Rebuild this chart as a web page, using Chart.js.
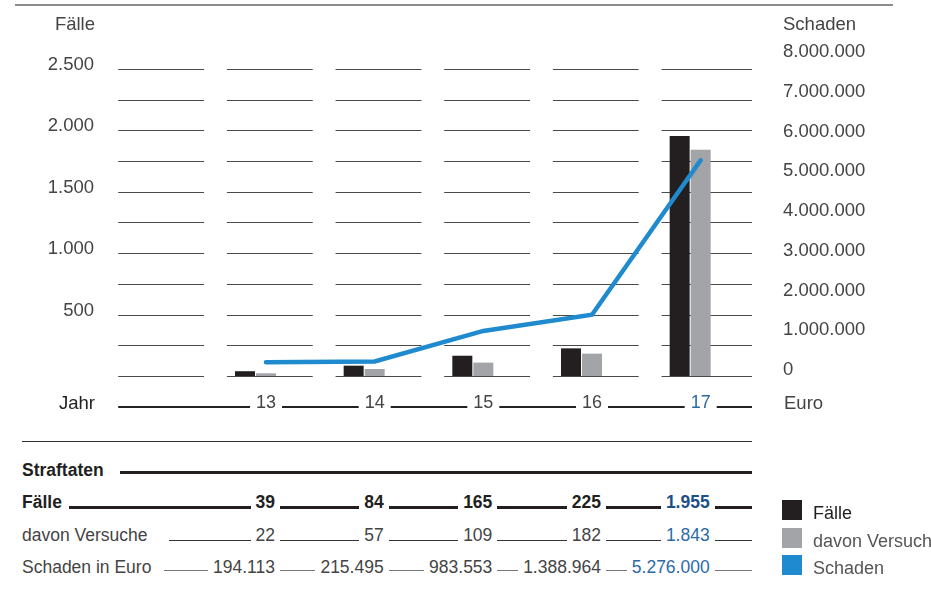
<!DOCTYPE html>
<html lang="de">
<head>
<meta charset="utf-8">
<title>Straftaten 2013–2017</title>
<script src="https://cdn.jsdelivr.net/npm/chart.js@4.4.1/dist/chart.umd.min.js"></script>
<style>
  html, body { margin: 0; padding: 0; background: #fff; }
  body {
    width: 931px; height: 603px; position: relative; overflow: hidden;
    font-family: "Liberation Sans", Arial, sans-serif; color: #444;
  }
  .topline { position: absolute; left: 15px; top: 4px; width: 878px; height: 2px; background: #8c8c8c; }
  #chart-box { position: absolute; left: 0; top: 0; width: 931px; height: 430px; }
  .axis-title { position: absolute; font-size: 18.5px; line-height: 22px; white-space: nowrap; color: #444; }
  .rule { position: absolute; left: 22px; top: 441px; width: 730px; height: 1px; background: #333; }
  .row { position: absolute; left: 22px; width: 730px; height: 22px; font-size: 17.5px; line-height: 22px; color: #444; }
  .row.bold { font-weight: bold; color: #231f20; }
  .row .line { position: absolute; left: 0; right: 0; }
  .row .cell { position: absolute; top: 0; background: #fff; white-space: nowrap; }
  .legend { position: absolute; left: 782px; top: 500px; font-size: 18px; color: #555; }
  .legend .item { position: relative; height: 27.5px; white-space: nowrap; }
  .legend .box { position: absolute; left: 0; top: 0; width: 20px; height: 20px; }
  .legend .text { position: absolute; left: 31px; top: 2px; line-height: 22px; }
</style>
</head>
<body>
<div class="topline"></div>
<div id="chart-box"><canvas id="chart" width="931" height="430"></canvas></div>

<div class="axis-title" style="right:836px; top:13px;">Fälle</div>
<div class="axis-title" style="left:783px; top:13px;">Schaden</div>
<div class="axis-title" style="right:836px; top:392px; color:#222;">Jahr</div>
<div class="axis-title" style="left:784px; top:392px;">Euro</div>

<div class="rule"></div>
<div id="table"></div>

<div class="legend">
  <div class="item"><span class="box" style="background:#231f20"></span><span class="text" style="color:#222">Fälle</span></div>
  <div class="item"><span class="box" style="background:#a2a4a7"></span><span class="text">davon Versuche</span></div>
  <div class="item"><span class="box" style="background:#1f8ace"></span><span class="text">Schaden</span></div>
</div>

<script>
'use strict';

var jahre = ['13', '14', '15', '16', '17'];
var faelle = [39, 84, 165, 225, 1955];
var versuche = [22, 57, 109, 182, 1843];
var schaden = [194113, 215495, 983553, 1388964, 5276000];

// Axis ticks
var faelleTicks = [0, 250, 500, 750, 1000, 1250, 1500, 1750, 2000, 2250, 2500];
var schadenTicks = [0, 1000000, 2000000, 3000000, 4000000, 5000000, 6000000, 7000000, 8000000];

var BLACK = '#231f20', GREY = '#a2a4a7', BLUE = '#1f8ace';
var FONT = "'Liberation Sans', Arial, sans-serif";

// German thousands separator
function fmt(v) {
  return String(v).replace(/\B(?=(\d{3})+(?!\d))/g, '.');
}

// The first column of the grid is empty, so the year axis gets a blank slot in front.
var labels = [''].concat(jahre);

// Gridlines are broken into one segment per column, and the year axis rule
// is interrupted around each label.
var segmentGrid = {
  id: 'segmentGrid',
  beforeDatasetsDraw: function (chart) {
    var ctx = chart.ctx, x = chart.scales.x, y = chart.scales.y;
    var w = x.width / labels.length;
    ctx.save();
    ctx.strokeStyle = '#4a4a4a';
    ctx.lineWidth = 1;
    ctx.beginPath();
    y.ticks.forEach(function (t) {
      var py = Math.round(y.getPixelForValue(t.value)) + 0.5;
      labels.forEach(function (_, i) {
        var cx = x.getPixelForValue(i);
        var right = i === labels.length - 1 ? x.right - 3 : cx + w * 0.43;
        ctx.moveTo(cx - w * 0.36, py);
        ctx.lineTo(right, py);
      });
    });
    ctx.stroke();
    ctx.restore();
  },
  afterDraw: function (chart) {
    var ctx = chart.ctx, x = chart.scales.x;
    var w = x.width / labels.length;
    var ly = x.top + 31;
    ctx.save();
    ctx.font = '18px ' + FONT;
    ctx.strokeStyle = '#222';
    ctx.lineWidth = 2.2;
    ctx.beginPath();
    var start = x.getPixelForValue(0) - w * 0.36;
    jahre.forEach(function (lab, i) {
      var cx = x.getPixelForValue(i + 1);
      var half = ctx.measureText(lab).width / 2 + 6;
      ctx.moveTo(start, ly);
      ctx.lineTo(cx - half, ly);
      start = cx + half;
    });
    ctx.moveTo(start, ly);
    ctx.lineTo(x.right - 3, ly);
    ctx.stroke();
    ctx.restore();
  }
};

Chart.defaults.font.family = FONT;

var chart = new Chart(document.getElementById('chart').getContext('2d'), {
  type: 'bar',
  data: {
    labels: labels,
    datasets: [
      {
        label: 'Schaden',
        type: 'line',
        data: [null].concat(schaden),
        yAxisID: 'y1',
        borderColor: BLUE,
        borderWidth: 4.5,
        borderCapStyle: 'round',
        borderJoinStyle: 'miter',
        pointRadius: 0,
        tension: 0,
        order: 0
      },
      {
        label: 'Fälle',
        data: [null].concat(faelle),
        yAxisID: 'y',
        backgroundColor: BLACK,
        order: 1
      },
      {
        label: 'davon Versuche',
        data: [null].concat(versuche),
        yAxisID: 'y',
        backgroundColor: GREY,
        order: 1
      },
      {
        // empty slot: keeps the bar pair left of the year label
        label: '',
        data: [],
        yAxisID: 'y',
        backgroundColor: 'rgba(0,0,0,0)',
        order: 1
      }
    ]
  },
  options: {
    responsive: false,
    animation: false,
    layout: { padding: { top: 52, left: 0, right: 0, bottom: 0 } },
    datasets: {
      bar: { categoryPercentage: 0.58, barPercentage: 0.952 }
    },
    plugins: {
      legend: { display: false },
      tooltip: { enabled: false }
    },
    scales: {
      x: {
        offset: true,
        grid: { display: false, drawTicks: false },
        border: { display: false },
        afterFit: function (s) { s.height = 54; },
        ticks: {
          autoSkip: false,
          maxRotation: 0,
          padding: 16,
          font: { size: 18 },
          color: function (c) { return c.index === labels.length - 1 ? '#2e69a6' : '#444'; }
        }
      },
      y: {
        position: 'left',
        min: 0,
        max: 2638,
        grid: { display: false, drawTicks: false },
        border: { display: false },
        afterFit: function (s) { s.width = 103; },
        afterBuildTicks: function (s) {
          s.ticks = faelleTicks.map(function (v) { return { value: v }; });
        },
        ticks: {
          padding: 9,
          labelOffset: -4,
          font: { size: 18.5 },
          color: '#444',
          callback: function (v) { return v > 0 && v % 500 === 0 ? fmt(v) : ''; }
        }
      },
      y1: {
        position: 'right',
        min: -151000,
        max: 8000000,
        grid: { display: false, drawTicks: false },
        border: { display: false },
        afterFit: function (s) { s.width = 176; },
        afterBuildTicks: function (s) {
          s.ticks = schadenTicks.map(function (v) { return { value: v }; });
        },
        ticks: {
          padding: 28,
          font: { size: 18.5 },
          color: '#444',
          callback: function (v) { return fmt(v); }
        }
      }
    }
  },
  plugins: [segmentGrid]
});

// Table under the chart; value columns line up with the year columns.
function buildTable(x) {
  var table = document.getElementById('table');
  var rows = [
    { label: 'Straftaten', values: null, bold: true, top: 459, lineTop: 12, lineH: 2.5, lineColor: '#231f20', gap: 16 },
    { label: 'Fälle', values: faelle, bold: true, top: 491, lineTop: 15, lineH: 2.5, lineColor: '#231f20', gap: 7, last: '#1d4f8a' },
    { label: 'davon Versuche', values: versuche, bold: false, top: 524, lineTop: 15.5, lineH: 1.3, lineColor: '#333', gap: 21, last: '#2d6aa8' },
    { label: 'Schaden in Euro', values: schaden, bold: false, top: 556, lineTop: 14, lineH: 1, lineColor: '#777', gap: 13, last: '#2d6aa8' }
  ];
  rows.forEach(function (r) {
    var row = document.createElement('div');
    row.className = 'row' + (r.bold ? ' bold' : '');
    row.style.top = r.top + 'px';

    var line = document.createElement('div');
    line.className = 'line';
    line.style.top = r.lineTop + 'px';
    line.style.height = r.lineH + 'px';
    line.style.background = r.lineColor;
    row.appendChild(line);

    var lab = document.createElement('span');
    lab.className = 'cell';
    lab.style.left = '0px';
    lab.style.paddingRight = r.gap + 'px';
    lab.textContent = r.label;
    row.appendChild(lab);

    if (r.values) {
      r.values.forEach(function (v, i) {
        var colRight = x.getPixelForValue(i + 1) + 9;
        var cell = document.createElement('span');
        cell.className = 'cell';
        cell.style.right = (752 - colRight - 5) + 'px';
        cell.style.padding = '0 5px';
        if (i === r.values.length - 1) cell.style.color = r.last;
        cell.textContent = fmt(v);
        row.appendChild(cell);
      });
    }
    table.appendChild(row);
  });
}

buildTable(chart.scales.x);
</script>
</body>
</html>
